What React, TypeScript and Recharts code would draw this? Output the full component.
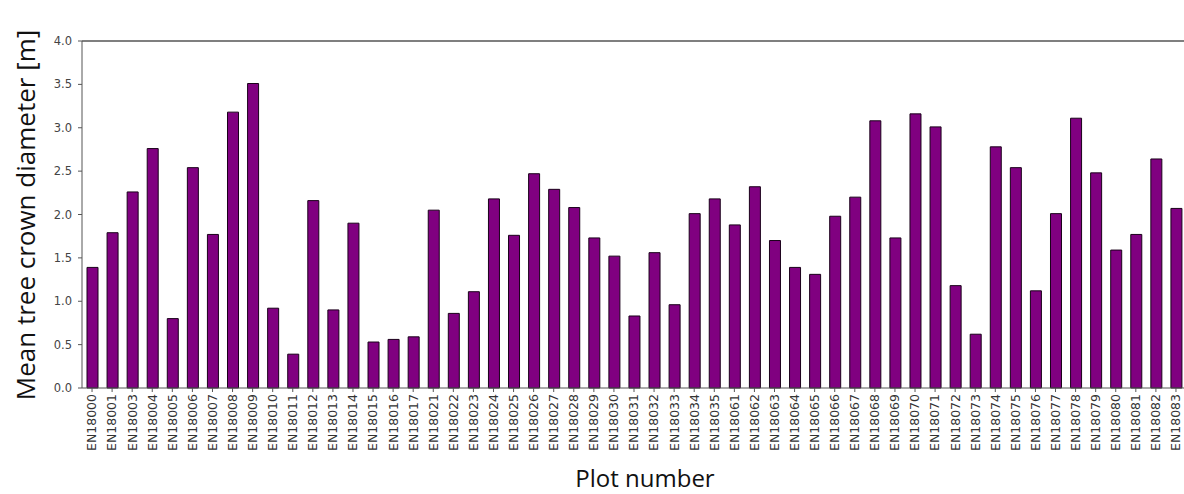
import { BarChart, Bar, XAxis, YAxis, ReferenceLine } from 'recharts'

const plots = [
  'EN18000', 'EN18001', 'EN18003', 'EN18004', 'EN18005', 'EN18006', 'EN18007', 'EN18008', 'EN18009', 'EN18010',
  'EN18011', 'EN18012', 'EN18013', 'EN18014', 'EN18015', 'EN18016', 'EN18017', 'EN18021', 'EN18022', 'EN18023',
  'EN18024', 'EN18025', 'EN18026', 'EN18027', 'EN18028', 'EN18029', 'EN18030', 'EN18031', 'EN18032', 'EN18033',
  'EN18034', 'EN18035', 'EN18061', 'EN18062', 'EN18063', 'EN18064', 'EN18065', 'EN18066', 'EN18067', 'EN18068',
  'EN18069', 'EN18070', 'EN18071', 'EN18072', 'EN18073', 'EN18074', 'EN18075', 'EN18076', 'EN18077', 'EN18078',
  'EN18079', 'EN18080', 'EN18081', 'EN18082', 'EN18083'
]

const crownDiameter = [
  1.39, 1.79, 2.26, 2.76, 0.8, 2.54, 1.77, 3.18, 3.51, 0.92,
  0.39, 2.16, 0.9, 1.9, 0.53, 0.56, 0.59, 2.05, 0.86, 1.11,
  2.18, 1.76, 2.47, 2.29, 2.08, 1.73, 1.52, 0.83, 1.56, 0.96,
  2.01, 2.18, 1.88, 2.32, 1.7, 1.39, 1.31, 1.98, 2.2, 3.08,
  1.73, 3.16, 3.01, 1.18, 0.62, 2.78, 2.54, 1.12, 2.01, 3.11,
  2.48, 1.59, 1.77, 2.64, 2.07
]

const yTicks = [0, 0.5, 1, 1.5, 2, 2.5, 3, 3.5, 4]

const data = plots.map((plot, i) => ({ plot, value: crownDiameter[i] }))

const axisColor = '#555'

function PlotTick(props: any) {
  const { x, y, payload } = props
  return (
    <g transform={`translate(${x},${y})`}>
      <text
        transform="rotate(-90)"
        textAnchor="end"
        dy="0.35em"
        fontSize={12.5}
        fontFamily="DejaVu Sans"
        fill="#333"
      >
        {payload.value}
      </text>
    </g>
  )
}

export default function App() {
  return (
    <div
      style={{
        position: 'fixed',
        left: 0,
        top: 0,
        width: 1184,
        height: 494,
        overflow: 'hidden',
        background: '#fff'
      }}
    >
      <BarChart
        width={1190}
        height={494}
        data={data}
        margin={{ top: 41, right: 4, bottom: 36, left: 32 }}
      >
        <XAxis
          dataKey="plot"
          interval={0}
          height={70}
          tick={<PlotTick />}
          tickSize={4}
          tickMargin={2}
          stroke={axisColor}
          tickLine={{ stroke: axisColor }}
        />
        <YAxis
          domain={[0, 4]}
          ticks={yTicks}
          width={50}
          tickSize={4}
          tickMargin={6}
          tickFormatter={(v: number) => v.toFixed(1)}
          stroke={axisColor}
          tick={{ fill: '#444', fontSize: 11.5, fontFamily: 'DejaVu Sans' }}
        />
        <ReferenceLine y={4} stroke={axisColor} strokeWidth={1.5} />
        <Bar
          dataKey="value"
          fill="#800080"
          stroke="#1a001a"
          strokeWidth={1}
          barSize={11}
          isAnimationActive={false}
        />
      </BarChart>
      <div
        style={{
          position: 'absolute',
          left: 25,
          top: 215,
          transform: 'translate(-50%, -50%) rotate(-90deg)',
          whiteSpace: 'nowrap',
          fontFamily: 'Open Sans',
          fontSize: 26,
          color: '#111'
        }}
      >
        Mean tree crown diameter [m]
      </div>
      <div
        style={{
          position: 'absolute',
          left: 645,
          top: 477,
          transform: 'translate(-50%, -50%)',
          whiteSpace: 'nowrap',
          fontFamily: 'Open Sans',
          fontSize: 24,
          color: '#111'
        }}
      >
        Plot number
      </div>
    </div>
  )
}
